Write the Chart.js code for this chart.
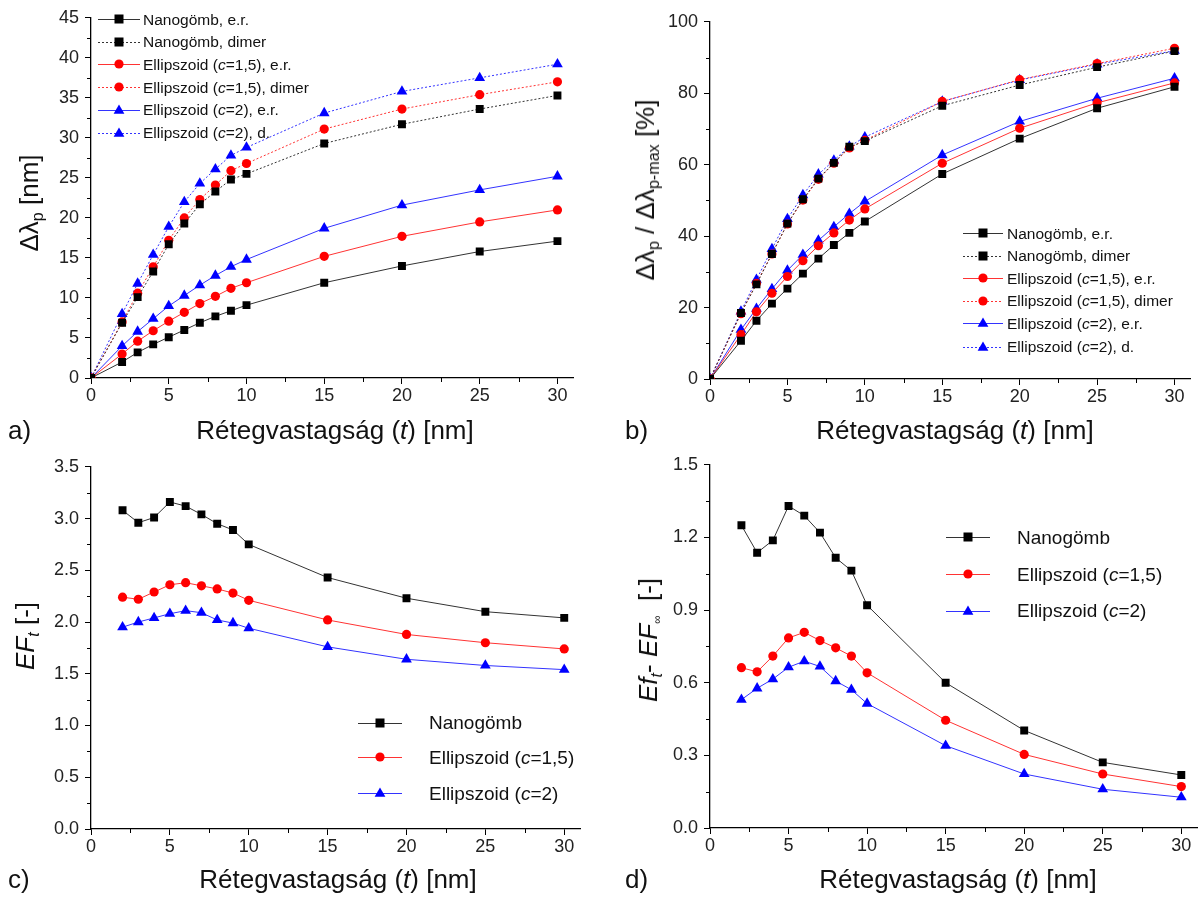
<!DOCTYPE html>
<html>
<head>
<meta charset="utf-8">
<script src="https://cdn.jsdelivr.net/npm/chart.js@4.4.1/dist/chart.umd.min.js"></script>
<style>
  body { margin: 0; width: 1199px; height: 899px; overflow: hidden; background: #fff; position: relative;
         font-family: "Liberation Sans", Arial, sans-serif; color: #111; }
  canvas { position: absolute; }
  .t { position: absolute; font-size: 26px; line-height: 1; white-space: nowrap; }
  .xt { transform: translateX(-50%); }
  .yt { transform: translate(-50%, -50%) rotate(-90deg); }
  .s { position: relative; top: 0.3em; font-size: 0.62em; }
  .leg { position: absolute; display: flex; align-items: center; white-space: nowrap; line-height: 1; height: 20px; }
</style>
</head>
<body>

<canvas id="ca"></canvas>
<canvas id="cb"></canvas>
<canvas id="cc"></canvas>
<canvas id="cd"></canvas>

<div class="t" style="left:8px;top:417px">a)</div>
<div class="t" style="left:625px;top:417px">b)</div>
<div class="t" style="left:8px;top:866px">c)</div>
<div class="t" style="left:625px;top:866px">d)</div>

<div class="t xt" style="left:335px;top:417px">Rétegvastagság (<i>t</i>) [nm]</div>
<div class="t xt" style="left:955px;top:417px">Rétegvastagság (<i>t</i>) [nm]</div>
<div class="t xt" style="left:338px;top:866px">Rétegvastagság (<i>t</i>) [nm]</div>
<div class="t xt" style="left:958px;top:866px">Rétegvastagság (<i>t</i>) [nm]</div>

<div class="t yt" style="left:29px;top:203px">Δλ<span class="s">p</span> [nm]</div>
<div class="t yt" style="left:645px;top:190px">Δλ<span class="s">p</span> / Δλ<span class="s">p-max</span> [%]</div>
<div class="t yt" style="left:25px;top:636px"><i>EF<span class="s">t</span></i> [-]</div>
<div class="t yt" style="left:648px;top:640px"><i>Ef<span class="s">t</span></i>- <i>EF</i><span class="s" style="font-size:0.45em">∞</span>&nbsp; [-]</div>

<script>
// layer thickness (nm)
const thickness = [0, 2, 3, 4, 5, 6, 7, 8, 9, 10, 15, 20, 25, 30];
const thicknessEF = [2, 3, 4, 5, 6, 7, 8, 9, 10, 15, 20, 25, 30];

// a) peak shift [nm]
const aSphereSingle = [0, 2.0, 3.2, 4.2, 5.1, 6.0, 6.9, 7.7, 8.4, 9.1, 11.9, 14.0, 15.8, 17.1];
const aSphereDimer  = [0, 6.9, 10.1, 13.3, 16.7, 19.3, 21.7, 23.3, 24.8, 25.5, 29.3, 31.7, 33.6, 35.3];
const aEll15Single  = [0, 3.0, 4.6, 5.9, 7.1, 8.2, 9.3, 10.2, 11.2, 11.9, 15.2, 17.7, 19.5, 21.0];
const aEll15Dimer   = [0, 7.0, 10.6, 13.9, 17.2, 20.0, 22.3, 24.1, 25.9, 26.8, 31.1, 33.6, 35.4, 37.0];
const aEll2Single   = [0, 4.0, 5.8, 7.4, 9.0, 10.3, 11.6, 12.8, 13.9, 14.8, 18.7, 21.6, 23.5, 25.2];
const aEll2Dimer    = [0, 8.0, 11.8, 15.4, 18.9, 22.0, 24.3, 26.1, 27.8, 28.8, 33.1, 35.8, 37.5, 39.2];

// b) relative peak shift [%]
const bSphereSingle = [0, 10.7, 16.3, 21.1, 25.3, 29.5, 33.7, 37.5, 40.9, 44.1, 57.4, 67.3, 75.8, 81.8];
const bSphereDimer  = [0, 18.5, 26.5, 35.0, 43.5, 50.3, 56.1, 60.5, 65.0, 66.6, 76.5, 82.3, 87.3, 91.8];
const bEll15Single  = [0, 12.4, 18.8, 24.0, 28.7, 33.1, 37.3, 40.9, 44.5, 47.6, 60.4, 70.2, 77.3, 82.9];
const bEll15Dimer   = [0, 18.3, 26.8, 35.0, 43.4, 50.1, 55.9, 60.4, 64.7, 66.8, 77.7, 83.8, 88.3, 92.6];
const bEll2Single   = [0, 13.8, 19.7, 25.2, 30.4, 34.8, 38.8, 42.6, 46.3, 49.7, 62.7, 72.1, 78.6, 84.2];
const bEll2Dimer    = [0, 18.9, 27.8, 36.4, 44.8, 51.5, 57.3, 61.2, 65.1, 67.7, 77.7, 83.7, 88.1, 91.9];

// c) EF_t
const cSphere = [3.08, 2.96, 3.01, 3.16, 3.12, 3.04, 2.95, 2.89, 2.75, 2.43, 2.23, 2.10, 2.04];
const cEll15  = [2.24, 2.22, 2.29, 2.36, 2.38, 2.35, 2.32, 2.28, 2.21, 2.02, 1.88, 1.80, 1.74];
const cEll2   = [1.95, 2.00, 2.04, 2.08, 2.11, 2.09, 2.02, 1.99, 1.94, 1.76, 1.64, 1.58, 1.54];

// d) EF_t - EF_inf
const dSphere = [1.25, 1.137, 1.188, 1.33, 1.29, 1.22, 1.116, 1.063, 0.92, 0.60, 0.403, 0.271, 0.219];
const dEll15  = [0.662, 0.645, 0.71, 0.785, 0.808, 0.774, 0.744, 0.71, 0.641, 0.445, 0.304, 0.223, 0.171];
const dEll2   = [0.53, 0.577, 0.615, 0.664, 0.689, 0.667, 0.607, 0.571, 0.514, 0.34, 0.223, 0.16, 0.127];

// tick values
const xMajor = [0, 5, 10, 15, 20, 25, 30];
const xMinor = [2.5, 7.5, 12.5, 17.5, 22.5, 27.5];
const aYMajor = [0, 5, 10, 15, 20, 25, 30, 35, 40, 45];
const aYMinor = [2.5, 7.5, 12.5, 17.5, 22.5, 27.5, 32.5, 37.5, 42.5];
const bYMajor = [0, 20, 40, 60, 80, 100];
const bYMinor = [10, 30, 50, 70, 90];
const cYMajor = [0, 0.5, 1, 1.5, 2, 2.5, 3, 3.5];
const cYMinor = [0.25, 0.75, 1.25, 1.75, 2.25, 2.75, 3.25];
const dYMajor = [0, 0.3, 0.6, 0.9, 1.2, 1.5];
const dYMinor = [0.15, 0.45, 0.75, 1.05, 1.35];

// series labels
const labelsShift = ['Nanogömb, e.r.', 'Nanogömb, dimer', 'Ellipszoid (<i>c</i>=1,5), e.r.',
  'Ellipszoid (<i>c</i>=1,5), dimer', 'Ellipszoid (<i>c</i>=2), e.r.', 'Ellipszoid (<i>c</i>=2), d.'];
const labelsEF = ['Nanogömb', 'Ellipszoid (<i>c</i>=1,5)', 'Ellipszoid (<i>c</i>=2)'];

const FONT = '"Liberation Sans", Arial, sans-serif';
const kinds = {
  sphere: { color: '#000000', line: '#333333', marker: 'rect', r: 5.6 },
  ell15:  { color: '#ff0000', line: '#ff3333', marker: 'circle', r: 4.6 },
  ell2:   { color: '#0000ff', line: '#3333ff', marker: 'triangle', r: 6.2 }
};

function ds(label, xs, ys, kind, dotted) {
  const k = kinds[kind];
  return {
    label: label,
    data: xs.map((x, i) => ({ x: x, y: ys[i] })),
    borderColor: k.line, borderWidth: 1, borderDash: dotted ? [2, 2] : [],
    pointStyle: k.marker, pointRadius: k.r, pointBackgroundColor: k.color,
    pointBorderColor: k.color, pointBorderWidth: 0, tension: 0, clip: 0
  };
}

const minorTicks = {
  id: 'minorTicks',
  afterDraw(chart, args, opts) {
    const ctx = chart.ctx, xs = chart.scales.x, ys = chart.scales.y;
    ctx.save();
    ctx.strokeStyle = '#000';
    ctx.lineWidth = 1;
    ctx.beginPath();
    opts.x.forEach(v => {
      const px = Math.round(xs.getPixelForValue(v)) + 0.5;
      ctx.moveTo(px, ys.bottom); ctx.lineTo(px, ys.bottom + 4);
    });
    opts.y.forEach(v => {
      const py = Math.round(ys.getPixelForValue(v)) + 0.5;
      ctx.moveTo(xs.left, py); ctx.lineTo(xs.left - 4, py);
    });
    ctx.stroke();
    ctx.restore();
  }
};

function panel(id, area, datasets, yMax, yMajor, yMinor, yFmt) {
  const padL = 70, padT = 15, padR = 15, padB = 40;
  const cv = document.getElementById(id);
  cv.width = area.r - area.l + padL + padR;
  cv.height = area.b - area.t + padT + padB;
  cv.style.left = (area.l - padL) + 'px';
  cv.style.top = (area.t - padT) + 'px';
  const axisCommon = {
    type: 'linear',
    grid: { display: true, drawOnChartArea: false, drawTicks: true, tickLength: 6, tickColor: '#000', tickWidth: 1 },
    border: { display: true, color: '#000', width: 1.3 }
  };
  new Chart(cv.getContext('2d'), {
    type: 'line',
    data: { datasets: datasets },
    plugins: [minorTicks],
    options: {
      responsive: false, animation: false, devicePixelRatio: 1,
      layout: { padding: { left: 0, top: padT, right: padR, bottom: 0 } },
      plugins: { legend: { display: false }, tooltip: { enabled: false }, minorTicks: { x: xMinor, y: yMinor } },
      scales: {
        x: Object.assign({}, axisCommon, {
          min: 0, max: 31,
          afterBuildTicks: s => { s.ticks = xMajor.map(v => ({ value: v })); },
          afterFit: s => { s.height = padB; },
          ticks: { color: '#222', font: { family: FONT, size: 18 }, padding: 1, maxRotation: 0, autoSkip: false,
                   callback: v => String(v) }
        }),
        y: Object.assign({}, axisCommon, {
          min: 0, max: yMax,
          afterBuildTicks: s => { s.ticks = yMajor.map(v => ({ value: v })); },
          afterFit: s => { s.width = padL; },
          ticks: { color: '#222', font: { family: FONT, size: 18 }, padding: 6, autoSkip: false, callback: yFmt }
        })
      }
    }
  });
}

panel('ca', { l: 91, r: 573, t: 16, b: 378 }, [
  ds(labelsShift[0], thickness, aSphereSingle, 'sphere', false),
  ds(labelsShift[1], thickness, aSphereDimer, 'sphere', true),
  ds(labelsShift[2], thickness, aEll15Single, 'ell15', false),
  ds(labelsShift[3], thickness, aEll15Dimer, 'ell15', true),
  ds(labelsShift[4], thickness, aEll2Single, 'ell2', false),
  ds(labelsShift[5], thickness, aEll2Dimer, 'ell2', true)
], 45, aYMajor, aYMinor, v => String(v));

panel('cb', { l: 710, r: 1190, t: 20, b: 379 }, [
  ds(labelsShift[0], thickness, bSphereSingle, 'sphere', false),
  ds(labelsShift[1], thickness, bSphereDimer, 'sphere', true),
  ds(labelsShift[2], thickness, bEll15Single, 'ell15', false),
  ds(labelsShift[3], thickness, bEll15Dimer, 'ell15', true),
  ds(labelsShift[4], thickness, bEll2Single, 'ell2', false),
  ds(labelsShift[5], thickness, bEll2Dimer, 'ell2', true)
], 100, bYMajor, bYMinor, v => String(v));

panel('cc', { l: 91, r: 580, t: 465, b: 829 }, [
  ds(labelsEF[0], thicknessEF, cSphere, 'sphere', false),
  ds(labelsEF[1], thicknessEF, cEll15, 'ell15', false),
  ds(labelsEF[2], thicknessEF, cEll2, 'ell2', false)
], 3.5, cYMajor, cYMinor, v => v.toFixed(1));

panel('cd', { l: 710, r: 1197, t: 463, b: 828 }, [
  ds(labelsEF[0], thicknessEF, dSphere, 'sphere', false),
  ds(labelsEF[1], thicknessEF, dEll15, 'ell15', false),
  ds(labelsEF[2], thicknessEF, dEll2, 'ell2', false)
], 1.5, dYMajor, dYMinor, v => v.toFixed(1));

// legends (HTML text, small svg samples)
function sample(kind, dotted, w) {
  const k = kinds[kind], c = w / 2;
  let m;
  if (kind === 'sphere') m = `<rect x="${c - 4.5}" y="5.5" width="9" height="9" fill="${k.color}"/>`;
  else if (kind === 'ell15') m = `<circle cx="${c}" cy="10" r="4.6" fill="${k.color}"/>`;
  else m = `<polygon points="${c},4.5 ${c + 5.4},13.8 ${c - 5.4},13.8" fill="${k.color}"/>`;
  return `<svg width="${w}" height="20" style="flex:none"><line x1="0" y1="10.5" x2="${w}" y2="10.5" stroke="${k.line}" stroke-width="1"${dotted ? ' stroke-dasharray="2 2"' : ''}/>${m}</svg>`;
}

function legend(items, left, rows, w, gap, size) {
  items.forEach((it, i) => {
    const row = document.createElement('div');
    row.className = 'leg';
    row.style.left = left + 'px';
    row.style.top = (rows[i] - 10) + 'px';
    row.style.fontSize = size + 'px';
    row.innerHTML = sample(it[1], it[2], w) + `<span style="margin-left:${gap}px">${it[0]}</span>`;
    document.body.appendChild(row);
  });
}

const shiftItems = [
  [labelsShift[0], 'sphere', false], [labelsShift[1], 'sphere', true],
  [labelsShift[2], 'ell15', false], [labelsShift[3], 'ell15', true],
  [labelsShift[4], 'ell2', false], [labelsShift[5], 'ell2', true]
];
const efItems = [[labelsEF[0], 'sphere', false], [labelsEF[1], 'ell15', false], [labelsEF[2], 'ell2', false]];

legend(shiftItems, 98, [19.3, 41.7, 64.3, 87.3, 110, 132.7], 42, 3, 15.5);
legend(shiftItems, 963, [233.3, 255.7, 278.3, 301, 323.3, 346.7], 40, 4, 15.5);
legend(efItems, 358, [722.7, 757.3, 793.3], 44, 27, 19);
legend(efItems, 946, [537.3, 574, 610.7], 44, 27, 19);
</script>
</body>
</html>
